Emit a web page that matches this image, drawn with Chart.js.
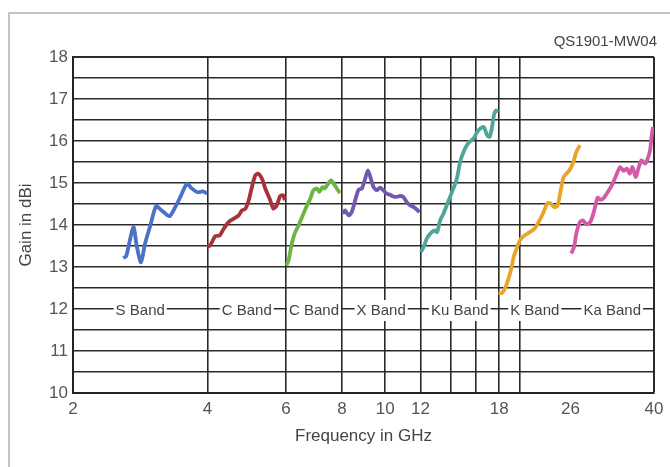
<!DOCTYPE html>
<html>
<head>
<meta charset="utf-8">
<script src="https://cdn.jsdelivr.net/npm/chart.js@4"></script>
<style>
  html, body { margin: 0; padding: 0; background: #fff; }
</style>
</head>
<body>
<canvas id="myChart" width="670" height="467"></canvas>
<script>
// frequency ticks / grid
const xTicks = [2, 4, 6, 8, 10, 12, 14, 16, 18, 20, 26, 40];
const xLabels = [2, 4, 6, 8, 10, 12, 18, 26, 40];
// gain grid, labels on whole numbers only
const yTicks = [10, 10.5, 11, 11.5, 12, 12.5, 13, 13.5, 14, 14.5, 15, 15.5, 16, 16.5, 17, 17.5, 18];

// band names and their edges (GHz)
const bandNames = ['S Band', 'C Band', 'C Band', 'X Band', 'Ku Band', 'K Band', 'Ka Band'];
const bandEdges = [2, 4, 6, 8, 12, 18, 26, 40];

// gain curves (GHz, dBi)
const sFreq = [2.59, 2.63, 2.73, 2.78, 2.84, 2.90, 2.98, 3.07, 3.14, 3.19, 3.29, 3.39, 3.48, 3.60, 3.69, 3.80, 3.91, 3.99];
const sGain = [13.22, 13.25, 13.95, 13.48, 13.11, 13.56, 13.99, 14.45, 14.37, 14.31, 14.21, 14.43, 14.67, 14.98, 14.87, 14.78, 14.80, 14.75];

const c1Freq = [4.00, 4.06, 4.16, 4.26, 4.35, 4.46, 4.58, 4.70, 4.78, 4.86, 4.95, 5.03, 5.12, 5.20, 5.30, 5.39, 5.53, 5.62, 5.72, 5.82, 5.91, 5.96];
const c1Gain = [13.48, 13.52, 13.73, 13.75, 13.91, 14.07, 14.15, 14.23, 14.35, 14.38, 14.59, 14.90, 15.18, 15.22, 15.10, 14.87, 14.59, 14.39, 14.47, 14.69, 14.71, 14.59];

const c2Freq = [6.01, 6.08, 6.18, 6.29, 6.40, 6.51, 6.66, 6.80, 6.91, 7.03, 7.12, 7.24, 7.32, 7.47, 7.57, 7.66, 7.79, 7.92];
const c2Gain = [13.04, 13.16, 13.56, 13.83, 13.99, 14.18, 14.43, 14.63, 14.83, 14.87, 14.79, 14.90, 14.87, 15.00, 15.06, 14.99, 14.87, 14.76];

const xFreq = [8.04, 8.13, 8.28, 8.42, 8.57, 8.72, 8.87, 9.02, 9.15, 9.29, 9.42, 9.58, 9.74, 9.90, 10.07, 10.25, 10.43, 10.6, 10.8, 10.98, 11.17, 11.37, 11.57, 11.77, 11.94];
const xGain = [14.27, 14.35, 14.23, 14.31, 14.59, 14.84, 14.87, 15.10, 15.30, 15.10, 14.90, 14.83, 14.89, 14.83, 14.75, 14.72, 14.68, 14.67, 14.69, 14.67, 14.55, 14.47, 14.43, 14.37, 14.31];

const kuFreq = [12.03, 12.2, 12.4, 12.64, 12.9, 13.07, 13.28, 13.51, 13.74, 13.98, 14.22, 14.47, 14.72, 14.98, 15.24, 15.45, 15.78, 16.06, 16.34, 16.63, 16.92, 17.14, 17.35, 17.55, 17.73, 17.9];
const kuGain = [13.36, 13.48, 13.68, 13.80, 13.87, 13.83, 14.11, 14.27, 14.47, 14.67, 14.87, 15.10, 15.50, 15.74, 15.90, 15.98, 16.06, 16.21, 16.30, 16.33, 16.14, 16.10, 16.33, 16.65, 16.73, 16.69];

const kFreq = [17.94, 18.26, 18.6, 18.94, 19.2, 19.4, 19.7, 20.05, 20.5, 21.07, 21.6, 22.17, 22.64, 23.1, 23.5, 23.9, 24.3, 24.7, 25.1, 25.85, 26.4, 26.8, 27.3];
const kGain = [12.38, 12.38, 12.52, 12.76, 13.00, 13.24, 13.44, 13.64, 13.75, 13.83, 13.91, 14.11, 14.31, 14.52, 14.51, 14.43, 14.45, 14.79, 15.14, 15.30, 15.50, 15.74, 15.90];

const kaFreq = [26.1, 26.5, 26.8, 27.3, 27.7, 28.2, 28.8, 29.4, 29.9, 30.4, 30.9, 31.7, 32.3, 32.9, 33.6, 34.2, 34.8, 35.3, 35.8, 36.4, 36.9, 37.5, 38.2, 38.6, 39.2, 39.5, 39.8];
const kaGain = [13.32, 13.48, 13.80, 14.07, 14.11, 14.02, 14.07, 14.35, 14.65, 14.60, 14.65, 14.83, 14.98, 15.18, 15.38, 15.29, 15.34, 15.22, 15.38, 15.14, 15.34, 15.54, 15.46, 15.54, 15.78, 16.10, 16.33];

function pts(f, g) {
    return f.map((v, i) => ({x: v, y: g[i]}));
}

function series(f, g, color) {
    return {
        data: pts(f, g),
        borderColor: color,
        borderWidth: 3.8,
        pointRadius: 0,
        tension: 0.25,
        fill: false,
    };
}

const data = {
    datasets: [
        series(sFreq, sGain, '#4a72c9'),
        series(c1Freq, c1Gain, '#a8323c'),
        series(c2Freq, c2Gain, '#6cb545'),
        series(xFreq, xGain, '#7259b0'),
        series(kuFreq, kuGain, '#4fa598'),
        series(kFreq, kGain, '#e8a52a'),
        series(kaFreq, kaGain, '#d45aa8'),
    ]
};

const font = 'Liberation Sans, Arial, sans-serif';

const extras = {
    id: 'extras',
    beforeDraw(chart) {
        const ctx = chart.ctx;
        ctx.save();
        ctx.fillStyle = '#fff';
        ctx.fillRect(0, 0, chart.width, chart.height);
        ctx.strokeStyle = '#c4c4c4';
        ctx.lineWidth = 2;
        ctx.strokeRect(9, 13, 700, 500);
        ctx.restore();
    },
    beforeDatasetsDraw(chart) {
        const ctx = chart.ctx;
        const xs = chart.scales.x, ys = chart.scales.y;
        ctx.save();
        ctx.font = '15px ' + font;
        ctx.textAlign = 'center';
        ctx.textBaseline = 'middle';
        const y = ys.getPixelForValue(12);
        bandNames.forEach((name, i) => {
            const x = xs.getPixelForValue(Math.sqrt(bandEdges[i] * bandEdges[i + 1]));
            const w = ctx.measureText(name).width;
            ctx.fillStyle = '#fff';
            ctx.fillRect(x - w / 2 - 2, y - 9, w + 4, 21);
            ctx.fillStyle = '#444';
            ctx.fillText(name, x, y + 2);
        });
        ctx.restore();
    },
    afterDraw(chart) {
        const ctx = chart.ctx;
        ctx.save();
        ctx.font = '15px ' + font;
        ctx.fillStyle = '#444';
        ctx.textAlign = 'right';
        ctx.textBaseline = 'middle';
        ctx.fillText('QS1901-MW04', chart.chartArea.right + 3, 42);
        ctx.restore();
    }
};

const config = {
    type: 'line',
    data: data,
    options: {
        responsive: false,
        animation: false,
        layout: {padding: {top: 57, right: 16, left: 0, bottom: 0}},
        plugins: {
            legend: {display: false},
            tooltip: {enabled: false},
        },
        scales: {
            x: {
                type: 'logarithmic',
                min: 2,
                max: 40,
                afterBuildTicks: (scale) => {
                    scale.ticks = xTicks.map(v => ({value: v}));
                },
                afterFit: (scale) => { scale.height = 74; },
                ticks: {
                    autoSkip: false,
                    maxRotation: 0,
                    minRotation: 0,
                    padding: 6,
                    color: '#555',
                    font: {family: font, size: 17},
                    callback: (value) => xLabels.includes(value) ? String(value) : '',
                },
                grid: {
                    drawTicks: false,
                    color: (c) => c.tick && c.tick.value === 26 ? 'rgba(0,0,0,0)' : '#2a2a2a',
                    lineWidth: (c) => c.tick && c.tick.value === 40 ? 2 : 1.6,
                },
                border: {color: '#222', width: 2},
                title: {
                    display: true,
                    text: 'Frequency in GHz',
                    color: '#444',
                    font: {family: font, size: 17},
                    padding: {bottom: 20},
                },
            },
            y: {
                min: 10,
                max: 18,
                afterBuildTicks: (scale) => {
                    scale.ticks = yTicks.map(v => ({value: v}));
                },
                afterFit: (scale) => { scale.width = 73; },
                ticks: {
                    autoSkip: false,
                    padding: 5,
                    color: '#555',
                    font: {family: font, size: 17},
                    callback: (v) => Number.isInteger(v) ? String(v) : '',
                },
                grid: {
                    drawTicks: false,
                    color: '#2a2a2a',
                    lineWidth: (c) => c.tick && c.tick.value === 18 ? 2 : 1.6,
                },
                border: {color: '#222', width: 2},
                title: {
                    display: true,
                    text: 'Gain in dBi',
                    color: '#444',
                    font: {family: font, size: 17},
                    padding: {top: 16},
                },
            },
        },
    },
    plugins: [extras],
};

const myChart = new Chart(
    document.getElementById('myChart'),
    config
);
</script>
</body>
</html>
